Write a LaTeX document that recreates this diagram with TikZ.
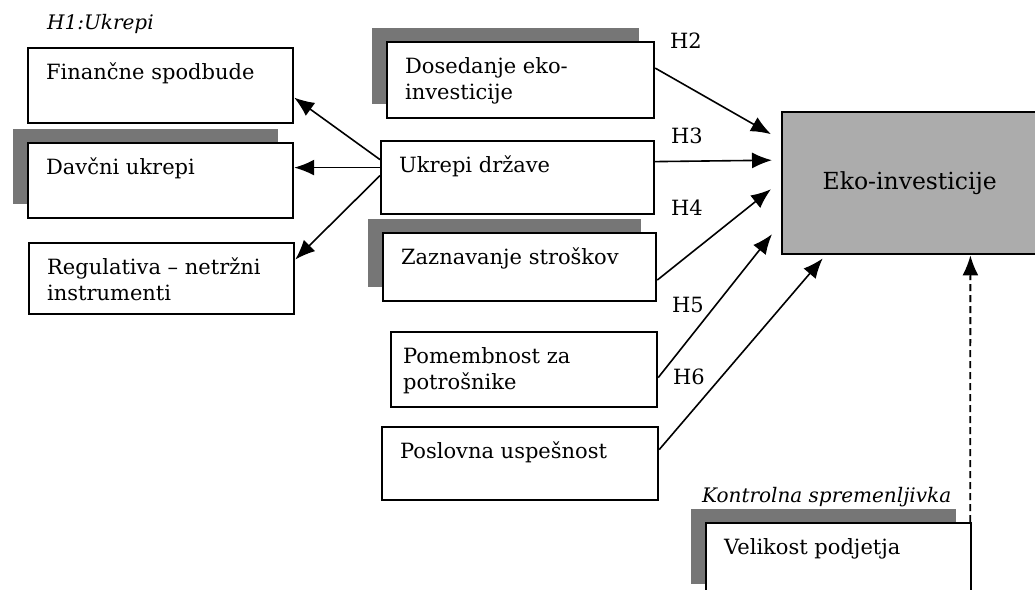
\documentclass[tikz,border=0pt]{standalone}
\usepackage{fontspec}
\setmainfont{DejaVu Serif}
\usepackage{tikz}
\usetikzlibrary{arrows.meta,shadows}
\definecolor{ekogray}{RGB}{172,172,172}
\definecolor{shadowgray}{RGB}{118,118,118}
\tikzstyle{factor} = [rectangle, draw, fill=white, line width=2.2pt, anchor=north west, inner xsep=18pt, inner ysep=0pt]
\tikzstyle{shadowed} = [general shadow={fill=shadowgray, shadow xshift=-15pt, shadow yshift=14pt}]
\tikzstyle{outcome} = [rectangle, draw, fill=ekogray, line width=2.4pt, anchor=north west, minimum width=255pt, minimum height=142pt, font=\fontsize{23.5}{26}\selectfont]
\tikzstyle{hyp} = [inner sep=0pt]
\tikzstyle{caption} = [anchor=base west, inner sep=0pt, font=\fontsize{20}{26}\selectfont\itshape]
\tikzstyle{line} = [draw, line width=1.6pt, -{Latex[length=20pt,width=16pt]}]
\tikzstyle{dashline} = [line, line width=1.8pt, dash pattern=on 7pt off 4pt]
\newcommand{\boxtext}[3][74pt]{\parbox[c][#1][t]{#2}{\rule{0pt}{31pt}#3}}

\begin{document}
\begin{tikzpicture}[x=1pt, y=-1pt, font=\fontsize{21}{26}\selectfont]
    \useasboundingbox (0,0) rectangle (1035,589);
    % left column
    \node [caption] (h1) at (47,29) {H1:Ukrepi};
    \node [factor] (fin) at (27,47) {\boxtext[75pt]{229pt}{Finančne spodbude}};
    \node [factor, shadowed] (davc) at (27,142) {\boxtext[75pt]{229pt}{Davčni ukrepi}};
    \node [factor] (reg) at (28,242) {\boxtext[71pt]{229pt}{Regulativa – netržni\\instrumenti}};
    % middle column
    \node [factor, shadowed] (dos) at (386,41) {\boxtext[76pt]{231pt}{Dosedanje eko-\\investicije}};
    \node [factor] (drz) at (380,140) {\boxtext[73pt]{237pt}{Ukrepi države}};
    \node [factor, shadowed] (zazn) at (382,232) {\boxtext[68pt]{237pt}{Zaznavanje stroškov}};
    \node [factor, inner xsep=12pt] (pom) at (390,331) {\boxtext[75pt]{242pt}{Pomembnost za\\potrošnike}};
    \node [factor] (posl) at (381,426) {\boxtext[73pt]{240pt}{Poslovna uspešnost}};
    % right side
    \node [outcome] (eko) at (781,111) {Eko-investicije};
    \node [caption] (ctrl) at (702,502) {Kontrolna spremenljivka};
    \node [factor, shadowed] (vel) at (705,522) {\boxtext[75pt]{229pt}{Velikost podjetja}};

    \node [hyp] (h2) at (686,41) {H2};
    \node [hyp] (h3) at (687,136) {H3};
    \node [hyp] (h4) at (687,208) {H4};
    \node [hyp] (h5) at (688,305) {H5};
    \node [hyp] (h6) at (689,377) {H6};

    \path [line] ([yshift=18pt]drz.west) -- ([yshift=-12pt]fin.east);
    \path [line] ([yshift=10pt]drz.west) -- ([yshift=13pt]davc.east);
    \path [line] ([yshift=2pt]drz.west) -- ([yshift=19pt]reg.east);

    \path [line] ([yshift=12pt]dos.east) -- ([xshift=-10pt,yshift=49pt]eko.west);
    \path [line] ([yshift=16pt]drz.east) -- ([xshift=-9pt,yshift=23pt]eko.west);
    \path [line] ([yshift=-13pt]zazn.east) -- ([xshift=-10pt,yshift=-6pt]eko.west);
    \path [line] ([yshift=-8pt]pom.east) -- ([xshift=-9pt,yshift=-51pt]eko.west);
    \path [line] ([yshift=14pt]posl.east) -- ([xshift=-87pt,yshift=-3pt]eko.south);
    \path [dashline] ([xshift=-2pt]vel.north east) -- ([xshift=-68pt]eko.south east);
\end{tikzpicture}
\end{document}
